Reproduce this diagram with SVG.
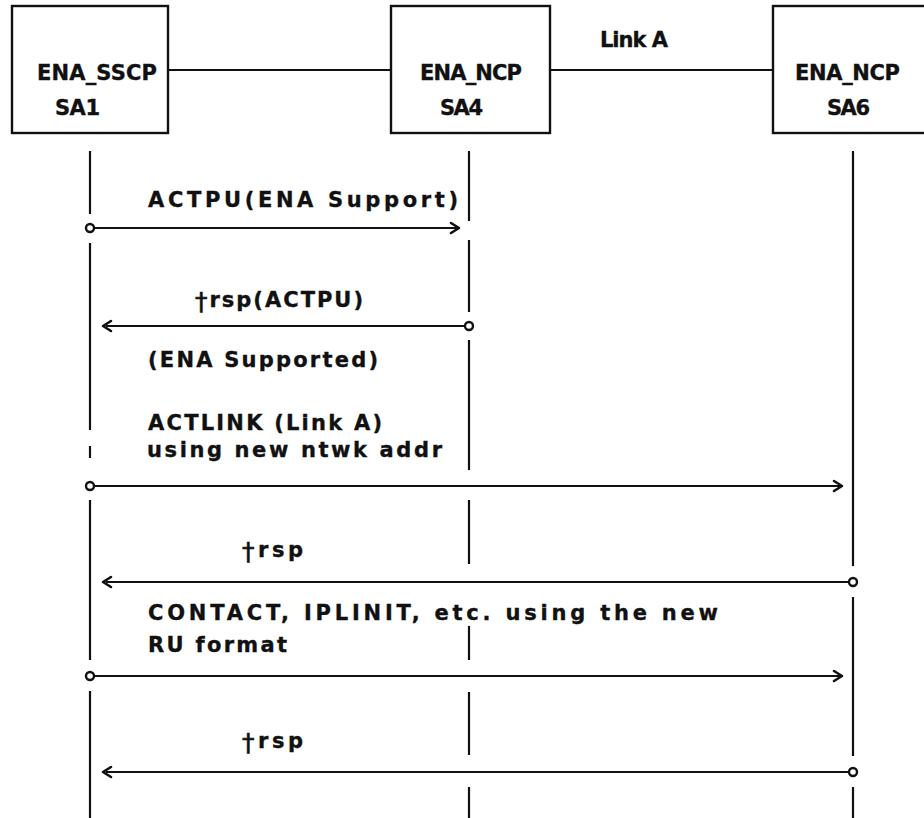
<svg xmlns="http://www.w3.org/2000/svg" width="924" height="818" viewBox="0 0 924 818">
<style>
  .box { fill: #fff; stroke: #111; stroke-width: 2.4; }
  .ln { stroke: #111; stroke-width: 2.2; fill: none; }
  .hd { stroke: #111; stroke-width: 2.6; fill: none; stroke-linecap: round; stroke-linejoin: round; }
  .dot { fill: #fff; stroke: #111; stroke-width: 2.4; }
  text { font-family: "DejaVu Sans", "Liberation Sans", sans-serif; font-size: 21px; font-weight: bold; fill: #111; stroke: #111; stroke-width: 0.35; }
  .dg { font-size: 25px; font-weight: normal; stroke-width: 0.6; }
</style>
<rect width="924" height="818" fill="#fff"/>

<g id="node-sa1">
  <rect class="box" x="12" y="6" width="156" height="127"/>
  <text x="37" y="80" textLength="120" lengthAdjust="spacing">ENA_SSCP</text>
  <text x="55" y="115" textLength="45" lengthAdjust="spacing">SA1</text>
</g>
<g id="node-sa4">
  <rect class="box" x="391" y="6" width="159" height="127"/>
  <text x="420" y="80" textLength="102" lengthAdjust="spacing">ENA_NCP</text>
  <text x="440" y="115" textLength="43" lengthAdjust="spacing">SA4</text>
</g>
<g id="node-sa6">
  <rect class="box" x="773" y="6" width="170" height="127"/>
  <text x="795" y="80" textLength="105" lengthAdjust="spacing">ENA_NCP</text>
  <text x="827" y="115" textLength="43" lengthAdjust="spacing">SA6</text>
</g>

<g id="connectors">
  <line class="ln" x1="168" y1="70" x2="391" y2="70"/>
  <line class="ln" x1="550" y1="70" x2="773" y2="70"/>

  <!-- lifeline SA1 -->
  <line class="ln" x1="90" y1="151" x2="90" y2="214"/>
  <line class="ln" x1="90" y1="243" x2="90" y2="430"/>
  <line class="ln" x1="90" y1="446" x2="90" y2="458"/>
  <line class="ln" x1="90" y1="500" x2="90" y2="660"/>
  <line class="ln" x1="90" y1="691" x2="90" y2="818"/>
  <!-- lifeline SA4 -->
  <line class="ln" x1="469" y1="151" x2="469" y2="221"/>
  <line class="ln" x1="469" y1="240" x2="469" y2="312"/>
  <line class="ln" x1="469" y1="340" x2="469" y2="470"/>
  <line class="ln" x1="469" y1="500" x2="469" y2="564"/>
  <line class="ln" x1="469" y1="626" x2="469" y2="660"/>
  <line class="ln" x1="469" y1="692" x2="469" y2="755"/>
  <line class="ln" x1="469" y1="787" x2="469" y2="818"/>
  <!-- lifeline SA6 -->
  <line class="ln" x1="853" y1="151" x2="853" y2="566"/>
  <line class="ln" x1="853" y1="597" x2="853" y2="756"/>
  <line class="ln" x1="853" y1="787" x2="853" y2="818"/>

  <!-- ACTPU -->
  <line class="ln" x1="94" y1="228" x2="457" y2="228"/>
  <polyline class="hd" points="451,223 459,228 451,233"/>
  <circle class="dot" cx="90" cy="228" r="4"/>
  <!-- rsp(ACTPU) -->
  <line class="ln" x1="106" y1="326" x2="465" y2="326"/>
  <polyline class="hd" points="111,321 103,326 111,331"/>
  <circle class="dot" cx="469" cy="326" r="4"/>
  <!-- ACTLINK -->
  <line class="ln" x1="94" y1="486" x2="841" y2="486"/>
  <polyline class="hd" points="834,481 842,486 834,491"/>
  <circle class="dot" cx="90" cy="486" r="4"/>
  <!-- rsp -->
  <line class="ln" x1="106" y1="582" x2="849" y2="582"/>
  <polyline class="hd" points="111,577 103,582 111,587"/>
  <circle class="dot" cx="853" cy="582" r="4"/>
  <!-- CONTACT -->
  <line class="ln" x1="94" y1="676" x2="841" y2="676"/>
  <polyline class="hd" points="834,671 842,676 834,681"/>
  <circle class="dot" cx="90" cy="676" r="4"/>
  <!-- rsp -->
  <line class="ln" x1="106" y1="772" x2="849" y2="772"/>
  <polyline class="hd" points="111,767 103,772 111,777"/>
  <circle class="dot" cx="853" cy="772" r="4"/>
</g>

<g id="labels">
  <text x="600" y="47" textLength="68" lengthAdjust="spacing">Link A</text>
  <text x="148" y="207" textLength="310" lengthAdjust="spacing">ACTPU(ENA Support)</text>
  <text x="195" y="307" textLength="168" lengthAdjust="spacing"><tspan class="dg" dy="3">†</tspan><tspan dy="-3">rsp(ACTPU)</tspan></text>
  <text x="148" y="367" textLength="230" lengthAdjust="spacing">(ENA Supported)</text>
  <text x="148" y="430" textLength="234" lengthAdjust="spacing">ACTLINK (Link A)</text>
  <text x="147" y="457" textLength="295" lengthAdjust="spacing">using new ntwk addr</text>
  <text x="242" y="557" textLength="61" lengthAdjust="spacing"><tspan class="dg" dy="3">†</tspan><tspan dy="-3">rsp</tspan></text>
  <text x="148" y="620" textLength="570" lengthAdjust="spacing">CONTACT, IPLINIT, etc. using the new</text>
  <text x="148" y="652" textLength="139" lengthAdjust="spacing">RU format</text>
  <text x="242" y="748" textLength="61" lengthAdjust="spacing"><tspan class="dg" dy="3">†</tspan><tspan dy="-3">rsp</tspan></text>
</g>
</svg>
